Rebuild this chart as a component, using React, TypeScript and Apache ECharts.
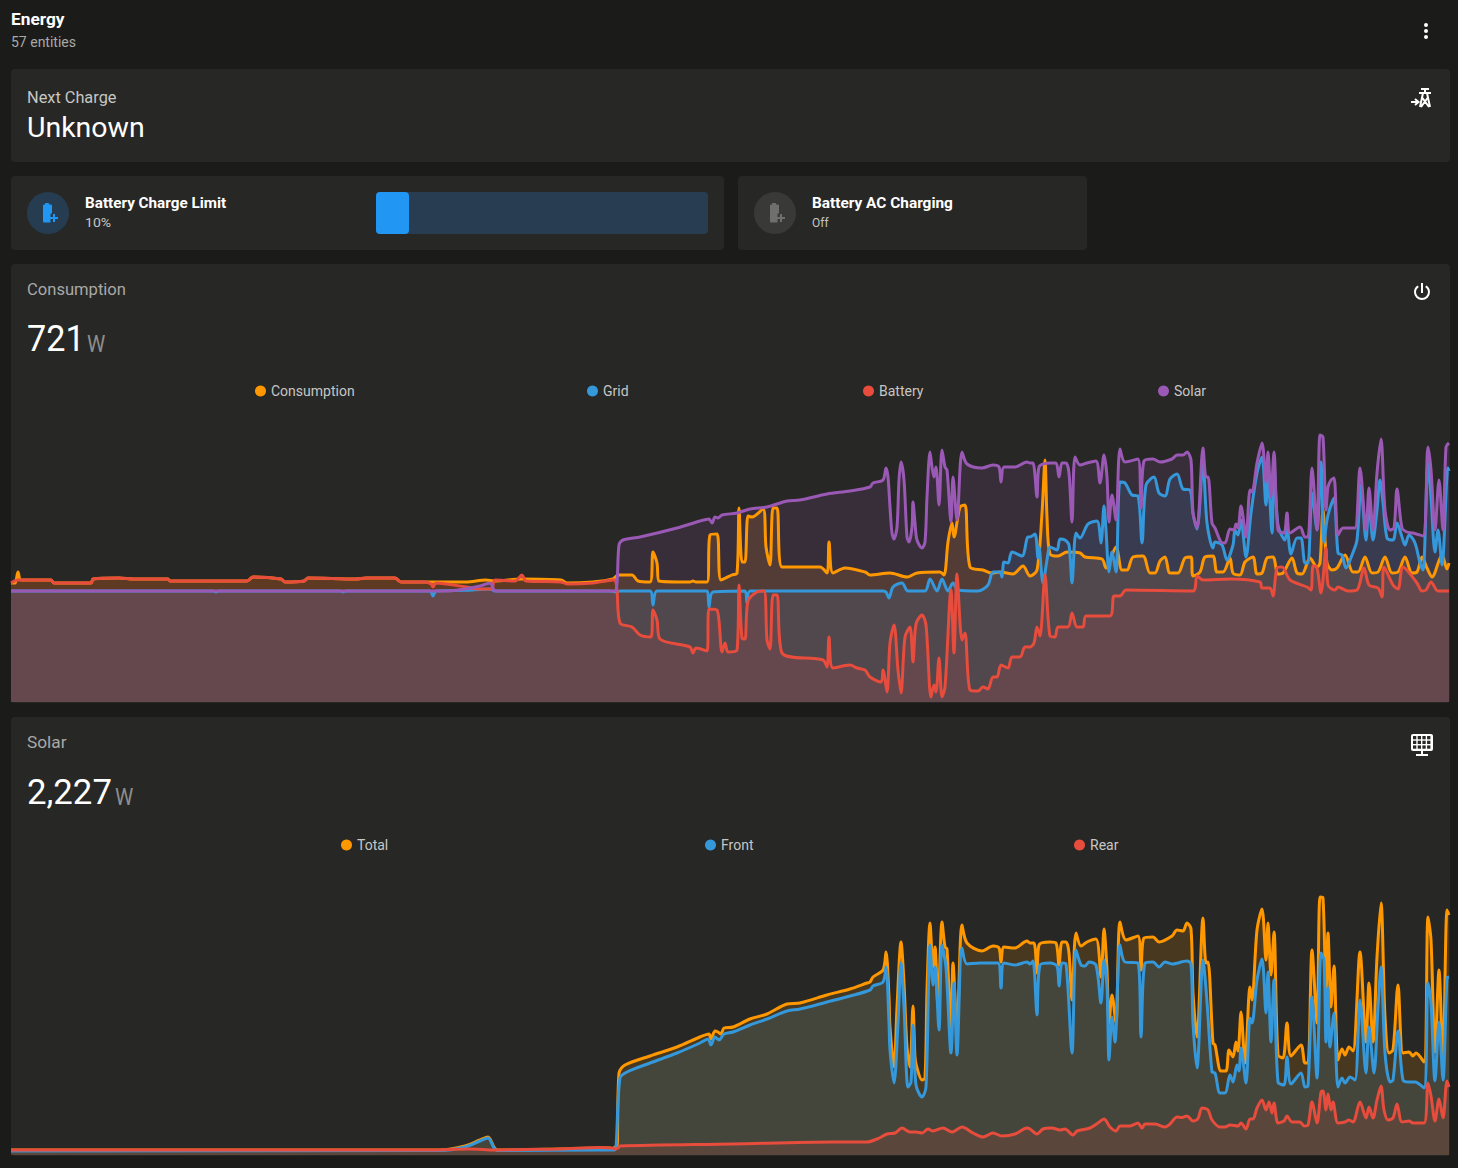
import React, { useEffect, useRef } from "react";
import * as echarts from "echarts";

// Power readings: [minute of the day, watts]
const houseConsumption: number[][] = [[11,120],[15,120],[18,285],[21,165],[51,165],[54,120],[91,120],[93,180],[119,195],[134,180],[168,180],[170,150],[247,150],[253,210],[281,180],[285,135],[304,150],[308,195],[356,180],[366,195],[395,195],[401,135],[431,135],[466,135],[486,165],[494,150],[522,180],[561,165],[567,120],[593,135],[613,180],[618,240],[632,240],[638,150],[650,135],[653,585],[657,420],[659,150],[690,135],[693,150],[696,135],[707,135],[710,840],[717,855],[721,165],[732,240],[737,270],[739,1245],[742,435],[745,435],[748,1125],[752,1110],[763,1230],[766,660],[770,390],[773,1245],[777,1245],[782,360],[820,360],[827,270],[829,735],[833,270],[845,345],[865,285],[870,240],[890,270],[907,210],[917,270],[940,285],[944,240],[948,735],[952,1020],[954,810],[960,1260],[965,1290],[970,360],[983,315],[992,270],[1000,285],[1013,255],[1023,375],[1030,225],[1037,315],[1042,1170],[1045,1965],[1047,1110],[1050,555],[1058,525],[1067,585],[1080,570],[1085,510],[1102,480],[1106,345],[1116,660],[1122,315],[1127,315],[1133,510],[1143,525],[1150,270],[1155,270],[1160,450],[1165,510],[1170,270],[1178,270],[1185,495],[1191,510],[1193,225],[1200,285],[1205,510],[1213,525],[1217,285],[1223,285],[1230,495],[1233,270],[1240,240],[1245,435],[1253,510],[1257,255],[1262,270],[1267,495],[1273,510],[1278,255],[1283,270],[1292,495],[1297,270],[1302,255],[1310,495],[1317,360],[1320,420],[1323,1215],[1327,420],[1332,315],[1337,345],[1345,540],[1353,285],[1358,285],[1365,510],[1372,270],[1378,285],[1385,510],[1392,270],[1398,285],[1405,510],[1412,270],[1417,285],[1422,510],[1427,345],[1432,210],[1442,540],[1447,330],[1449,420]];

const gridPower: number[][] = [[11,0],[213,0],[216,-15],[219,0],[340,0],[343,-15],[346,0],[430,0],[433,-75],[436,0],[465,10],[490,30],[495,0],[610,0],[617,-15],[620,0],[650,0],[653,-210],[657,0],[707,0],[709,-240],[713,-15],[745,0],[747,-180],[750,0],[883,0],[886,-15],[889,-105],[893,60],[902,120],[908,0],[925,0],[930,180],[937,0],[942,180],[948,0],[953,120],[958,15],[978,0],[988,90],[993,285],[1000,285],[1002,210],[1004,435],[1008,420],[1012,585],[1022,525],[1028,810],[1030,810],[1035,855],[1038,495],[1039,660],[1043,120],[1047,465],[1050,660],[1057,615],[1060,780],[1065,765],[1069,690],[1072,120],[1076,870],[1080,795],[1088,1005],[1097,1050],[1101,720],[1104,1275],[1106,915],[1109,285],[1112,585],[1116,285],[1120,1635],[1125,1620],[1132,1440],[1138,1425],[1142,720],[1146,1590],[1154,1710],[1159,1470],[1165,1425],[1170,1680],[1177,1755],[1183,1530],[1190,1515],[1193,1170],[1197,930],[1203,1920],[1207,1020],[1213,645],[1215,735],[1222,690],[1227,465],[1233,690],[1235,915],[1238,840],[1241,1065],[1246,510],[1251,1170],[1257,1770],[1262,2010],[1266,1290],[1268,1710],[1272,870],[1274,1920],[1278,990],[1285,765],[1287,960],[1291,555],[1297,795],[1301,795],[1305,420],[1308,420],[1312,1470],[1317,915],[1321,1935],[1324,735],[1327,1065],[1330,1245],[1334,1395],[1338,570],[1342,540],[1346,345],[1352,540],[1357,765],[1361,1590],[1366,765],[1369,1290],[1373,765],[1377,1215],[1380,1665],[1383,1335],[1387,795],[1393,765],[1397,1020],[1402,810],[1405,690],[1409,840],[1415,720],[1420,420],[1423,315],[1428,1920],[1431,1410],[1435,585],[1438,915],[1442,390],[1448,1845],[1449,1800]];

const batteryPower: number[][] = [[11,120],[18,165],[51,165],[54,120],[91,120],[93,180],[119,195],[134,180],[168,180],[170,150],[247,150],[253,210],[281,180],[285,135],[304,150],[308,195],[356,180],[366,195],[395,195],[401,135],[425,135],[431,105],[433,60],[436,120],[466,60],[478,30],[490,30],[492,30],[495,165],[515,150],[522,240],[526,150],[561,135],[567,105],[593,120],[613,165],[615,165],[617,15],[620,-480],[632,-540],[640,-660],[651,-690],[653,-285],[657,-435],[660,-720],[690,-840],[693,-930],[696,-855],[707,-900],[709,-270],[717,-285],[722,-915],[725,-780],[728,-915],[737,-885],[739,90],[742,-705],[745,-720],[748,-150],[757,-15],[764,0],[767,-735],[770,-870],[773,-60],[777,-60],[782,-930],[823,-1035],[827,-1140],[829,-690],[833,-1155],[850,-1110],[857,-1155],[865,-1185],[870,-1290],[881,-1365],[883,-1185],[887,-1515],[890,-780],[894,-510],[898,-1185],[901,-1530],[905,-690],[910,-540],[913,-1065],[916,-495],[922,-360],[926,-510],[931,-1590],[934,-1410],[936,-1515],[939,-1005],[942,-1590],[945,-1440],[951,15],[954,-930],[957,255],[962,-735],[965,-630],[970,-1485],[978,-1500],[983,-1440],[988,-1470],[993,-1290],[997,-1290],[1001,-1110],[1008,-1155],[1012,-990],[1020,-990],[1025,-840],[1030,-840],[1034,-780],[1037,-540],[1040,-675],[1045,240],[1050,-675],[1055,-690],[1058,-540],[1068,-540],[1072,-330],[1077,-540],[1083,-540],[1086,-375],[1110,-375],[1114,-75],[1120,-75],[1126,15],[1193,0],[1197,225],[1203,165],[1230,180],[1260,135],[1262,45],[1270,45],[1273,-75],[1277,345],[1282,360],[1290,165],[1307,60],[1311,15],[1313,375],[1316,375],[1321,-30],[1326,645],[1328,90],[1335,15],[1338,60],[1348,0],[1357,15],[1364,345],[1369,90],[1378,45],[1382,-90],[1384,360],[1393,90],[1398,30],[1403,360],[1417,120],[1422,0],[1426,15],[1431,135],[1438,0],[1449,0]];

const solarPower: number[][] = [[11,0],[440,0],[447,0],[465,30],[480,75],[490,120],[494,15],[497,0],[610,0],[616,15],[619,690],[623,765],[640,810],[677,945],[700,1050],[709,1080],[712,1020],[715,1110],[718,1095],[722,1140],[737,1170],[750,1230],[767,1260],[787,1350],[800,1365],[827,1455],[850,1500],[870,1560],[873,1620],[883,1665],[886,1845],[888,1710],[890,1260],[892,870],[894,780],[897,960],[899,1665],[901,1935],[904,1665],[907,810],[909,735],[912,960],[913,1335],[915,1020],[917,765],[922,645],[925,735],[927,1410],[930,2085],[932,1860],[934,1710],[936,1860],[939,1290],[942,2115],[945,1860],[947,1815],[951,1035],[953,1710],[957,1065],[962,2085],[967,1905],[982,1845],[993,1890],[999,1860],[1001,1635],[1004,1860],[1015,1860],[1027,1935],[1030,1920],[1033,1920],[1037,1410],[1039,1860],[1050,1920],[1056,1920],[1059,1710],[1062,1920],[1066,1920],[1069,1770],[1072,1035],[1075,2010],[1080,1890],[1087,1920],[1096,1950],[1100,1620],[1104,2040],[1107,1710],[1109,1035],[1112,1440],[1116,1065],[1120,2130],[1125,1935],[1138,1980],[1141,1245],[1144,1950],[1153,1980],[1160,1935],[1172,1980],[1177,2040],[1183,2040],[1187,2085],[1191,1965],[1193,1170],[1197,945],[1203,2145],[1206,1710],[1208,1710],[1212,1020],[1215,945],[1221,735],[1225,720],[1230,930],[1234,915],[1236,1005],[1238,945],[1241,1275],[1246,810],[1250,1515],[1252,1485],[1257,1920],[1262,2220],[1266,1635],[1268,2085],[1271,1410],[1274,2085],[1278,915],[1284,870],[1287,1170],[1290,870],[1300,960],[1305,810],[1308,810],[1312,1845],[1317,915],[1320,2340],[1323,2310],[1326,1215],[1328,1560],[1331,1665],[1334,1695],[1338,840],[1343,945],[1349,945],[1355,945],[1360,1845],[1366,915],[1369,1545],[1373,915],[1377,1770],[1381,2280],[1385,1215],[1390,915],[1394,945],[1397,1530],[1402,945],[1407,885],[1413,870],[1423,825],[1428,2160],[1431,1815],[1435,915],[1439,1665],[1443,915],[1446,2160],[1449,2220]];

const solarTotal: number[][] = [[11,10],[440,10],[465,50],[480,110],[488,140],[494,40],[497,10],[560,20],[600,30],[610,30],[613,20],[615,40],[617,40],[619,780],[625,860],[650,950],[677,1040],[700,1140],[709,1170],[711,1120],[715,1200],[718,1190],[721,1170],[724,1230],[733,1240],[750,1320],[767,1370],[787,1470],[800,1480],[827,1560],[850,1620],[867,1680],[870,1690],[873,1740],[883,1810],[886,1990],[889,1540],[890,1240],[894,840],[897,1440],[901,2090],[904,1680],[907,1040],[910,840],[913,1450],[915,940],[917,830],[922,710],[925,730],[927,1610],[930,2280],[933,1840],[935,2040],[938,1440],[942,2290],[945,2040],[947,2020],[951,1180],[953,1880],[957,1210],[962,2260],[967,2080],[982,2000],[993,2050],[999,2030],[1001,1890],[1004,2040],[1015,2030],[1027,2100],[1030,2080],[1034,2080],[1037,1780],[1039,2060],[1050,2090],[1056,2080],[1059,1860],[1062,2090],[1066,2090],[1069,1980],[1072,1510],[1076,2180],[1081,2050],[1087,2090],[1096,2120],[1101,1740],[1104,2220],[1107,1810],[1109,1280],[1112,1560],[1116,1280],[1120,2290],[1126,2110],[1138,2150],[1141,1810],[1144,2130],[1153,2140],[1159,2090],[1172,2150],[1177,2210],[1183,2200],[1187,2280],[1191,2220],[1193,1580],[1197,1140],[1203,2330],[1206,1880],[1208,1890],[1213,1080],[1215,1060],[1221,800],[1226,800],[1229,1010],[1233,940],[1236,1090],[1238,1000],[1241,1390],[1245,880],[1250,1640],[1252,1510],[1257,2210],[1262,2420],[1266,1910],[1268,2280],[1271,1760],[1274,2190],[1278,960],[1283,930],[1287,1280],[1291,950],[1301,1060],[1305,880],[1308,880],[1312,2010],[1317,1280],[1320,2540],[1323,2530],[1326,1580],[1328,2180],[1331,1440],[1334,1850],[1338,910],[1342,1020],[1345,960],[1349,1040],[1353,1000],[1360,1990],[1366,1090],[1369,1680],[1373,1090],[1377,1940],[1381,2480],[1385,1340],[1389,980],[1393,1010],[1398,1660],[1403,980],[1409,990],[1413,950],[1416,980],[1424,890],[1428,2340],[1431,2110],[1435,990],[1439,1810],[1443,880],[1447,2410],[1449,2360]];

const solarFront: number[][] = [[11,0],[440,5],[465,40],[480,100],[488,130],[494,30],[497,5],[600,10],[614,10],[616,40],[620,730],[627,790],[650,880],[677,980],[700,1080],[708,1120],[711,1060],[715,1140],[719,1110],[724,1170],[733,1190],[750,1260],[767,1320],[787,1400],[800,1420],[827,1490],[850,1550],[870,1610],[873,1650],[883,1690],[886,1840],[889,1280],[890,1010],[894,680],[898,1280],[901,1880],[904,1440],[908,640],[911,690],[913,1260],[916,660],[922,540],[926,640],[930,2060],[933,1660],[935,1840],[939,1210],[942,2060],[946,1830],[951,980],[954,1680],[957,960],[962,2030],[967,1870],[980,1880],[998,1880],[1001,1630],[1004,1880],[1015,1860],[1027,1890],[1030,1870],[1033,1900],[1037,1360],[1040,1860],[1050,1880],[1057,1850],[1059,1650],[1062,1880],[1066,1870],[1072,980],[1076,2010],[1081,1860],[1085,1850],[1089,1890],[1096,1860],[1101,1480],[1104,1910],[1107,1640],[1109,910],[1112,1340],[1115,1090],[1120,2060],[1125,1890],[1138,1880],[1141,1140],[1145,1880],[1153,1890],[1159,1840],[1165,1890],[1172,1870],[1187,1900],[1191,1870],[1193,1280],[1197,830],[1203,1910],[1207,1490],[1212,790],[1215,780],[1220,580],[1225,580],[1230,760],[1233,690],[1237,860],[1239,800],[1241,1030],[1246,680],[1250,1330],[1252,1280],[1257,1710],[1262,1920],[1266,1380],[1268,1790],[1271,1090],[1274,1710],[1278,690],[1284,660],[1287,940],[1291,670],[1301,780],[1305,640],[1308,650],[1312,1540],[1317,730],[1321,1980],[1324,1910],[1326,1090],[1328,1630],[1330,1040],[1334,1380],[1338,640],[1342,730],[1345,680],[1350,740],[1355,710],[1360,1510],[1366,780],[1369,1240],[1374,780],[1378,1440],[1381,1840],[1385,980],[1390,690],[1393,710],[1398,1200],[1403,710],[1409,690],[1415,690],[1424,630],[1428,1680],[1431,1480],[1435,700],[1439,1290],[1443,710],[1447,1730],[1449,1740]];

const solarRear: number[][] = [[11,10],[430,10],[470,20],[495,10],[525,15],[560,20],[600,35],[612,30],[615,20],[618,30],[620,50],[733,70],[833,90],[867,90],[877,120],[887,170],[895,180],[902,230],[910,190],[916,190],[922,180],[928,220],[933,200],[943,230],[952,190],[962,240],[973,180],[983,140],[993,180],[1002,150],[1015,170],[1027,230],[1030,220],[1037,170],[1043,220],[1052,230],[1060,210],[1065,220],[1073,160],[1077,200],[1090,230],[1098,280],[1104,320],[1110,240],[1116,200],[1120,250],[1130,250],[1138,280],[1142,230],[1145,270],[1155,270],[1165,240],[1170,270],[1177,340],[1182,335],[1187,350],[1193,300],[1198,325],[1202,430],[1208,410],[1212,310],[1220,240],[1225,240],[1230,260],[1238,250],[1241,280],[1246,220],[1250,320],[1253,320],[1257,430],[1262,510],[1266,410],[1269,490],[1272,380],[1274,480],[1278,280],[1284,300],[1287,350],[1292,290],[1300,290],[1304,250],[1308,260],[1312,490],[1317,280],[1321,590],[1323,600],[1326,410],[1328,570],[1331,410],[1333,490],[1338,280],[1345,290],[1349,310],[1353,290],[1360,490],[1366,330],[1369,440],[1373,330],[1377,510],[1381,650],[1384,410],[1388,310],[1393,330],[1397,470],[1402,290],[1409,300],[1413,280],[1424,280],[1428,680],[1431,550],[1435,300],[1439,520],[1443,330],[1447,700],[1449,640]];

const ORANGE = "#ff9800";
const BLUE = "#3498db";
const RED = "#e74c3c";
const PURPLE = "#9b59b6";
const PAGE = "#1b1b19";
const CARD = "#272725";
const FONT = "Roboto, sans-serif";

const DOTS = "M12,16A2,2 0 0,1 14,18A2,2 0 0,1 12,20A2,2 0 0,1 10,18A2,2 0 0,1 12,16M12,10A2,2 0 0,1 14,12A2,2 0 0,1 12,14A2,2 0 0,1 10,12A2,2 0 0,1 12,10M12,4A2,2 0 0,1 14,6A2,2 0 0,1 12,8A2,2 0 0,1 10,6A2,2 0 0,1 12,4Z";
const POWER = "M16.56,5.44L15.11,6.89C16.84,7.94 18,9.83 18,12A6,6 0 0,1 12,18A6,6 0 0,1 6,12C6,9.83 7.16,7.94 8.88,6.88L7.44,5.44C5.36,6.88 4,9.28 4,12A8,8 0 0,0 12,20A8,8 0 0,0 20,12C20,9.28 18.64,6.88 16.56,5.44M13,3H11V13H13V3Z";
const TOWER = "M11,3H19M15,3V7M9,7H21M13,7L10,21M17,7L20,21M12.5,12L19,21M17.5,12L11,21M1,16H8M5,13L8.5,16L5,19";

echarts.graphic.registerShape("iconDots", echarts.graphic.extendPath(DOTS, {}));
echarts.graphic.registerShape("iconPower", echarts.graphic.extendPath(POWER, {}));
echarts.graphic.registerShape("iconTower", echarts.graphic.extendPath(TOWER, {}));

function rect(x: number, y: number, width: number, height: number, fill: string, r = 4) {
  return { type: "rect", shape: { x, y, width, height, r }, style: { fill } };
}
function label(text: string, x: number, y: number, fontSize: number, fill: string, fontWeight: any = 400, scaleX = 1) {
  return {
    type: "text",
    x,
    y,
    scaleX,
    style: { text, fill, fontSize, fontWeight, fontFamily: FONT, align: "left", verticalAlign: "middle" },
  };
}
function batteryIcon(cx: number, cy: number, fg: string, disc: string) {
  return [
    { type: "circle", shape: { cx, cy, r: 21 }, style: { fill: disc } },
    rect(cx - 3, cy - 10, 4, 2, fg, 0.5),
    rect(cx - 5, cy - 8.5, 9, 18, fg, 1),
    rect(cx + 2.5, cy + 0.5, 8, 9.5, disc, 0),
    rect(cx + 2, cy + 4, 8, 2, fg, 0),
    rect(cx + 5, cy + 1, 2, 8, fg, 0),
  ];
}
function panelIcon() {
  const cells: any[] = [rect(1411, 734, 22, 17, "#ffffff", 2)];
  for (let row = 0; row < 3; row++) {
    for (let col = 0; col < 4; col++) {
      cells.push(rect(1413 + col * 4.7, 736 + row * 4.7, 3.3, 3.3, CARD, 0));
    }
  }
  cells.push(rect(1421, 751, 2, 4, "#ffffff", 0));
  cells.push(rect(1416, 754, 12, 2, "#ffffff", 0));
  return cells;
}

function lineSeries(name: string, data: number[][], color: string, axis: number) {
  return {
    name,
    type: "line",
    data,
    xAxisIndex: axis,
    yAxisIndex: axis,
    smooth: 0.3,
    showSymbol: false,
    symbol: "none",
    itemStyle: { color },
    lineStyle: { color, width: 3 },
    areaStyle: { color, opacity: 0.15, origin: "start" },
    emphasis: { disabled: true },
  };
}
function legendEntry(name: string, left: number, top: number) {
  return {
    data: [name],
    left,
    top,
    icon: "circle",
    itemWidth: 11,
    itemHeight: 11,
    itemGap: 0,
    selectedMode: false,
    textStyle: { color: "#c6c6c4", fontSize: 14, fontFamily: FONT },
  };
}

export default function App() {
  const ref = useRef<HTMLDivElement>(null);
  useEffect(() => {
    document.body.style.margin = "0";
    document.body.style.background = PAGE;
    const chart = echarts.init(ref.current!, undefined, { renderer: "svg" });
    chart.setOption({
      animation: false,
      backgroundColor: PAGE,
      grid: [
        { left: 11, width: 1438, top: 430, height: 272, containLabel: false },
        { left: 11, width: 1438, top: 880, height: 275, containLabel: false },
      ],
      xAxis: [
        { type: "value", gridIndex: 0, min: 11, max: 1449, show: false },
        { type: "value", gridIndex: 1, min: 11, max: 1449, show: false },
      ],
      yAxis: [
        { type: "value", gridIndex: 0, min: -1665, max: 2415, show: false },
        { type: "value", gridIndex: 1, min: -40, max: 2710, show: false },
      ],
      legend: [
        legendEntry("Consumption", 250, 379),
        legendEntry("Grid", 582, 379),
        legendEntry("Battery", 858, 379),
        legendEntry("Solar", 1153, 379),
        legendEntry("Total", 336, 833),
        legendEntry("Front", 700, 833),
        legendEntry("Rear", 1069, 833),
      ],
      graphic: {
        elements: [
          rect(11, 69, 1439, 93, CARD),
          rect(11, 176, 713, 74, CARD),
          rect(738, 176, 349, 74, CARD),
          rect(11, 264, 1439, 439, CARD),
          rect(11, 717, 1439, 439, CARD),
          label("Energy", 11, 19.5, 16, "#ffffff", 700, 1.08),
          label("57 entities", 11, 42, 14, "#a9a9a7"),
          { type: "iconDots", x: 1414, y: 19, style: { fill: "#ffffff" } },
          label("Next Charge", 27, 98, 16, "#c6c6c4", 400, 1.02),
          label("Unknown", 27, 128, 28, "#ffffff", 400, 1.017),
          { type: "iconTower", x: 1410, y: 86, style: { fill: "none", stroke: "#ffffff", lineWidth: 2 } },
          ...batteryIcon(48, 213, "#2196f3", "#263c50"),
          label("Battery Charge Limit", 85, 203, 14, "#ffffff", 700, 1.09),
          label("10%", 85, 222, 13, "#c6c6c4", 400, 1.08),
          rect(376, 192, 332, 42, "#293d52"),
          rect(376, 192, 33, 42, "#2196f3"),
          ...batteryIcon(775, 213, "#6f6f6d", "#393937"),
          label("Battery AC Charging", 812, 203, 14, "#ffffff", 700, 1.1),
          label("Off", 812, 222, 13, "#c6c6c4", 400, 0.92),
          label("Consumption", 27, 290, 16, "#a9a9a7", 400, 1.036),
          { type: "iconPower", x: 1410, y: 280, style: { fill: "#ffffff" } },
          label("721", 27, 339, 36, "#ffffff", 400, 0.95),
          label("W", 87, 343, 24, "#8d8d8b", 400, 0.86),
          label("Solar", 27, 743, 16, "#a9a9a7", 400, 1.08),
          ...panelIcon(),
          label("2,227", 27, 792, 36, "#ffffff", 400, 0.965),
          label("W", 115, 796, 24, "#8d8d8b", 400, 0.86),
        ],
      },
      series: [
        lineSeries("Consumption", houseConsumption, ORANGE, 0),
        lineSeries("Grid", gridPower, BLUE, 0),
        lineSeries("Battery", batteryPower, RED, 0),
        lineSeries("Solar", solarPower, PURPLE, 0),
        lineSeries("Total", solarTotal, ORANGE, 1),
        lineSeries("Front", solarFront, BLUE, 1),
        lineSeries("Rear", solarRear, RED, 1),
      ],
    });
    return () => chart.dispose();
  }, []);
  return <div ref={ref} style={{ width: 1458, height: 1168 }} />;
}
